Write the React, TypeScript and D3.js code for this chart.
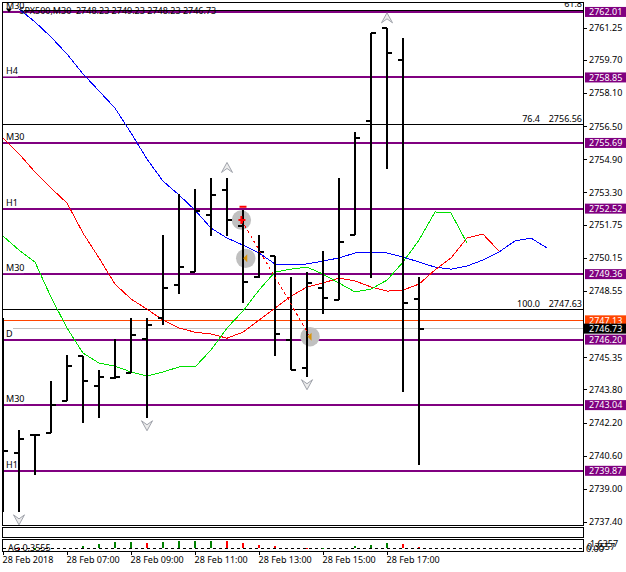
import { useEffect, useRef } from 'react';
import * as d3 from 'd3';

// 30 minute bars, 05:00 to 18:00
const barOpen = [2746.66, 2740.74, 2741.61, 2741.70, 2743.25, 2745.42, 2743.98, 2744.36, 2744.60, 2746.23, 2747.26, 2748.84, 2749.46, 2752.21, 2753.42, 2751.70, 2749.24, 2750.24, 2746.18, 2744.84, 2748.71, 2748.11, 2751.25, 2756.77, 2761.22, 2759.69, 2748.17];
const barHigh = [2747.24, 2741.84, 2741.64, 2744.20, 2745.46, 2745.42, 2744.73, 2746.23, 2747.24, 2747.24, 2751.25, 2753.23, 2753.47, 2754.00, 2754.00, 2752.46, 2751.25, 2750.24, 2749.22, 2749.46, 2750.48, 2754.00, 2756.22, 2760.98, 2761.22, 2760.74, 2749.22];
const barLow = [2737.89, 2737.89, 2739.66, 2741.70, 2743.25, 2742.19, 2742.43, 2744.30, 2744.57, 2742.43, 2746.91, 2748.42, 2749.46, 2751.22, 2751.22, 2747.97, 2749.19, 2745.42, 2744.73, 2744.41, 2747.44, 2748.11, 2751.25, 2749.19, 2754.43, 2743.69, 2740.15];
const barClose = [2740.82, 2741.40, 2741.61, 2743.06, 2744.94, 2744.20, 2744.41, 2744.41, 2746.42, 2746.91, 2748.71, 2749.70, 2752.41, 2753.18, 2751.97, 2749.00, 2750.44, 2746.47, 2744.73, 2748.95, 2748.22, 2750.93, 2755.94, 2760.98, 2760.03, 2747.98, 2746.73];

// moving averages (blue starts on bar 1, the others on bar 0)
const blueMa = [2762.15, 2761.53, 2760.80, 2759.98, 2759.02, 2758.20, 2757.37, 2756.17, 2754.91, 2753.85, 2753.18, 2752.45, 2751.58, 2751.10, 2750.76, 2750.38, 2749.85, 2749.80, 2749.85, 2749.99, 2750.14, 2750.38, 2750.38, 2750.38, 2750.19, 2749.94, 2749.70, 2749.60, 2749.75, 2750.04, 2750.43, 2750.96, 2751.10, 2750.62];
const redMa = [2755.93, 2755.16, 2754.29, 2753.51, 2752.79, 2751.34, 2750.14, 2748.88, 2748.16, 2747.67, 2747.14, 2746.76, 2746.56, 2746.47, 2746.27, 2746.56, 2747.14, 2747.72, 2748.30, 2748.74, 2748.93, 2749.17, 2749.03, 2748.74, 2748.54, 2748.59, 2748.88, 2749.56, 2750.14, 2751.10, 2751.29, 2750.47];
const greenMa = [2751.20, 2750.52, 2749.94, 2748.25, 2746.76, 2745.55, 2745.07, 2744.92, 2744.64, 2744.44, 2744.64, 2744.88, 2744.88, 2745.70, 2746.76, 2747.58, 2748.59, 2749.46, 2749.60, 2749.70, 2749.36, 2748.93, 2748.50, 2748.64, 2749.07, 2749.94, 2751.00, 2752.36, 2752.31, 2750.86];

// purple levels and the timeframe written on each
const levelPrices = [2762.01, 2758.85, 2755.69, 2752.52, 2749.36, 2746.20, 2743.04, 2739.87];
const levelNames = ['M30', 'H4', 'M30', 'H1', 'M30', 'D', 'M30', 'H1'];

const fibPrices = [2762.09, 2756.56, 2747.63];
const fibNames = ['61.8', '76.4', '100.0'];

const priceTicks = [2761.25, 2759.7, 2758.1, 2756.5, 2754.9, 2753.3, 2751.75, 2750.15, 2748.55, 2746.95, 2745.35, 2743.8, 2742.2, 2740.6, 2739.0, 2737.4];
const timeTickBars = [0, 4, 8, 12, 16, 20, 24];
const timeLabels = ['28 Feb 2018', '28 Feb 07:00', '28 Feb 09:00', '28 Feb 11:00', '28 Feb 13:00', '28 Feb 15:00', '28 Feb 17:00'];

const fractalUpBars = [14, 24];
const fractalDownBars = [1, 9, 19];

// trade marks: fractional bar position and price
const tradeBars = [14.9, 15.17, 19.19];
const tradePrices = [2751.97, 2750.12, 2746.34];
const stopBar = 15;
const stopPrice = 2752.61;

// AG histogram, one value per bar
const histValues = [0, -0.3, -0.3, 0, 0, 0.52, 0.9, 1.26, 1.36, 1.05, 1.26, 1.47, 1.53, 1.53, 1.53, 1.05, 0.63, 0.42, 0.1, -0.2, -0.2, 0.1, 0.42, 0.7, 1.05, 0.84, 0.21];
const histRed = [0, 1, 0, 0, 0, 0, 0, 0, 0, 1, 0, 0, 0, 0, 1, 1, 1, 1, 1, 1, 0, 0, 0, 0, 0, 1, 1];

const PURPLE = '#800080';
const ORANGE = '#ff4500';
const FONT = '"Noto Sans", sans-serif';

export default function App() {
  const svgRef = useRef<SVGSVGElement>(null);

  useEffect(() => {
    if (!svgRef.current) return;
    d3.select(svgRef.current).selectAll('*').remove();

    const svg = d3.select(svgRef.current);
    svg.style('font-family', FONT).style('font-size', '9px');

    const left = 2.5;
    const right = 583.5;
    const top = 2.5;
    const bottom = 525.5;

    const x = d3.scaleLinear().domain([0, 26]).range([3, 419]);
    const y = d3.scaleLinear().domain([2761.25, 2737.4]).range([27.7, 522]);
    const h = d3.scaleLinear().domain([0, 1.6357]).range([548.3, 540.5]);

    svg.append('rect').attr('width', 626).attr('height', 572).attr('fill', '#fff');

    svg
      .append('defs')
      .append('clipPath')
      .attr('id', 'main-clip')
      .append('rect')
      .attr('x', left)
      .attr('y', top)
      .attr('width', right - left)
      .attr('height', bottom - top);

    const g = svg.append('g').attr('clip-path', 'url(#main-clip)');

    // Horizontal lines
    g.selectAll('.fib')
      .data(fibPrices)
      .enter()
      .append('line')
      .attr('x1', left)
      .attr('x2', right)
      .attr('y1', (d) => y(d))
      .attr('y2', (d) => y(d))
      .attr('stroke', '#000')
      .attr('shape-rendering', 'crispEdges');

    g.append('line')
      .attr('x1', 13)
      .attr('x2', right)
      .attr('y1', y(2746.73))
      .attr('y2', y(2746.73))
      .attr('stroke', '#c0c0c0')
      .attr('shape-rendering', 'crispEdges');

    g.append('line')
      .attr('x1', 4)
      .attr('x2', right)
      .attr('y1', y(2747.13))
      .attr('y2', y(2747.13))
      .attr('stroke', ORANGE)
      .attr('shape-rendering', 'crispEdges');

    g.selectAll('.level')
      .data(levelPrices)
      .enter()
      .append('line')
      .attr('x1', left)
      .attr('x2', right)
      .attr('y1', (d) => y(d))
      .attr('y2', (d) => y(d))
      .attr('stroke', PURPLE)
      .attr('stroke-width', 2)
      .attr('shape-rendering', 'crispEdges');

    // Level names sit on a white box that eats the top of the line
    const labelWidth = (name: string) => (name === 'M30' ? 21 : name === 'D' ? 10 : 15);
    g.selectAll('.level-bg')
      .data(levelPrices)
      .enter()
      .append('rect')
      .attr('x', 3)
      .attr('y', (d) => y(d) - 11)
      .attr('width', (_d, i) => labelWidth(levelNames[i]))
      .attr('height', 10)
      .attr('fill', '#fff');

    g.selectAll('.level-name')
      .data(levelPrices)
      .enter()
      .append('text')
      .attr('x', 6)
      .attr('y', (d) => y(d) - 3)
      .attr('fill', '#000')
      .text((_d, i) => levelNames[i]);

    // Moving averages, aliased like the terminal draws them
    const maLine = (offset: number) =>
      d3
        .line<number>()
        .x((_d, i) => x(i + offset))
        .y((d) => y(d));

    g.append('path')
      .attr('d', maLine(1)(blueMa))
      .attr('fill', 'none')
      .attr('stroke', '#0000ff')
      .attr('shape-rendering', 'crispEdges');
    g.append('path')
      .attr('d', maLine(0)(redMa))
      .attr('fill', 'none')
      .attr('stroke', '#ff0000')
      .attr('shape-rendering', 'crispEdges');
    g.append('path')
      .attr('d', maLine(0)(greenMa))
      .attr('fill', 'none')
      .attr('stroke', '#00e000')
      .attr('shape-rendering', 'crispEdges');

    // Trade circles go under the bars
    g.selectAll('.trade')
      .data(tradePrices)
      .enter()
      .append('circle')
      .attr('cx', (_d, i) => x(tradeBars[i]))
      .attr('cy', (d) => y(d))
      .attr('r', 9.7)
      .attr('fill', '#c0c0c0');

    // OHLC bars
    const bars = g
      .selectAll('.bar')
      .data(barHigh)
      .enter()
      .append('g')
      .attr('shape-rendering', 'crispEdges');

    bars
      .append('rect')
      .attr('x', (_d, i) => x(i) - 1)
      .attr('y', (d) => y(d))
      .attr('width', 2)
      .attr('height', (d, i) => y(barLow[i]) - y(d));
    bars
      .append('rect')
      .attr('x', (_d, i) => x(i) - 5)
      .attr('y', (_d, i) => y(barOpen[i]) - 1)
      .attr('width', 5)
      .attr('height', 2);
    bars
      .append('rect')
      .attr('x', (_d, i) => x(i))
      .attr('y', (_d, i) => y(barClose[i]) - 1)
      .attr('width', 5)
      .attr('height', 2);

    // Dotted line between the trade marks
    g.append('line')
      .attr('x1', x(tradeBars[0]))
      .attr('y1', y(tradePrices[0]))
      .attr('x2', x(tradeBars[2]))
      .attr('y2', y(tradePrices[2]))
      .attr('stroke', '#ff0000')
      .attr('stroke-dasharray', '3,3')
      .attr('shape-rendering', 'crispEdges');

    g.append('rect')
      .attr('x', x(stopBar) - 3.5)
      .attr('y', y(stopPrice) - 1)
      .attr('width', 7)
      .attr('height', 2)
      .attr('fill', '#ff0000');

    // Trade glyphs
    g.append('path')
      .attr('transform', `translate(${x(tradeBars[0])},${y(tradePrices[0])})`)
      .attr('d', 'M-3,-1H-1V-4H1V-1H4V1H1V4H-1V1H-3Z')
      .attr('fill', '#ff0000');
    tradePrices.slice(1).forEach((price, i) => {
      g.append('path')
        .attr('transform', `translate(${x(tradeBars[i + 1]) + 0.5},${y(price)})`)
        .attr('d', 'M-3,0L1,-4V4Z')
        .attr('fill', '#d8940c');
    });

    // Fractal arrows
    const arrow = 'M0,-5.5L5.5,4.5L0,0.5L-5.5,4.5Z';
    g.selectAll('.fractal-up')
      .data(fractalUpBars)
      .enter()
      .append('path')
      .attr('transform', (d) => `translate(${x(d)},${y(barHigh[d]) - 10})`)
      .attr('d', arrow)
      .attr('fill', '#ececec')
      .attr('stroke', '#a0a3ab')
      .attr('stroke-width', 1);
    g.selectAll('.fractal-down')
      .data(fractalDownBars)
      .enter()
      .append('path')
      .attr('transform', (d) => `translate(${x(d)},${y(barLow[d]) + 7.5}) rotate(180)`)
      .attr('d', arrow)
      .attr('fill', '#ececec')
      .attr('stroke', '#a0a3ab')
      .attr('stroke-width', 1);

    // Fib captions
    g.selectAll('.fib-name')
      .data(fibPrices)
      .enter()
      .append('text')
      .attr('x', (_d, i) => (i === 0 ? 582 : 540))
      .attr('y', (d) => y(d) - 3)
      .attr('text-anchor', 'end')
      .text((_d, i) => fibNames[i]);
    g.selectAll('.fib-value')
      .data(fibPrices.slice(1))
      .enter()
      .append('text')
      .attr('x', 582)
      .attr('y', (d) => y(d) - 3)
      .attr('text-anchor', 'end')
      .text((d) => d.toFixed(2));

    // Chart caption
    g.append('path').attr('d', 'M6,8.5H12L9,12.5Z').attr('fill', '#000');
    g.append('text')
      .attr('x', 19.5)
      .attr('y', 14)
      .attr('xml:space', 'preserve')
      .text('SPX500,M30  2748.23 2749.23 2748.23 2746.73');

    // Frames
    const frames = [
      [top, bottom],
      [527.5, 537.5],
      [539.5, 551.5],
    ];
    svg
      .selectAll('.frame')
      .data(frames)
      .enter()
      .append('rect')
      .attr('x', left)
      .attr('y', (d) => d[0])
      .attr('width', right - left)
      .attr('height', (d) => d[1] - d[0])
      .attr('fill', 'none')
      .attr('stroke', '#000')
      .attr('shape-rendering', 'crispEdges');

    // Price axis
    const priceAxis = d3
      .axisRight(y)
      .tickValues(priceTicks)
      .tickSize(3)
      .tickFormat((d) => (d as number).toFixed(2));
    const priceG = svg
      .append('g')
      .attr('transform', `translate(${right},0)`)
      .call(priceAxis);
    priceG.select('.domain').remove();
    priceG.selectAll('text').attr('x', 5.5).style('font-family', FONT).style('font-size', '9px');
    priceG.selectAll('line').attr('shape-rendering', 'crispEdges');

    // Price tags on the right
    const tags = [
      ...levelPrices.map((d) => ({ price: d, fill: PURPLE, x: 585 })),
      { price: 2747.13, fill: ORANGE, x: 585 },
      { price: 2746.73, fill: '#000', x: 583 },
    ];
    const tag = svg.selectAll('.tag').data(tags).enter().append('g');
    tag
      .append('rect')
      .attr('x', (d) => d.x)
      .attr('y', (d) => y(d.price) - 5)
      .attr('width', (d) => 626 - d.x)
      .attr('height', 10)
      .attr('fill', (d) => d.fill);
    tag
      .append('text')
      .attr('x', 589)
      .attr('y', (d) => y(d.price) + 3.3)
      .attr('fill', '#fff')
      .text((d) => d.price.toFixed(2));

    // AG histogram
    svg
      .append('line')
      .attr('x1', left)
      .attr('x2', right)
      .attr('y1', h(0))
      .attr('y2', h(0))
      .attr('stroke', '#000')
      .attr('stroke-dasharray', '3,3')
      .attr('shape-rendering', 'crispEdges');

    svg
      .selectAll('.hist')
      .data(histValues)
      .enter()
      .append('rect')
      .attr('x', (_d, i) => x(i) - 1)
      .attr('y', (d) => Math.min(h(d), h(0)))
      .attr('width', 2)
      .attr('height', (d) => Math.abs(h(d) - h(0)))
      .attr('fill', (_d, i) => (histRed[i] ? '#ff0000' : '#008000'))
      .attr('shape-rendering', 'crispEdges');

    svg.append('text').attr('x', 8).attr('y', 551).text('AG 0.3555');
    svg.append('text').attr('x', 590).attr('y', 547).text('1.6357');
    svg.append('text').attr('x', 587).attr('y', 550).text('0.3557');
    svg.append('text').attr('x', 586).attr('y', 552).text('0.00');

    // Time axis
    const timeAxis = d3
      .axisBottom(x)
      .tickValues(timeTickBars)
      .tickSize(3)
      .tickFormat((_d, i) => timeLabels[i]);
    const timeG = svg
      .append('g')
      .attr('transform', 'translate(0,551.5)')
      .call(timeAxis);
    timeG.select('.domain').remove();
    timeG
      .selectAll('text')
      .attr('text-anchor', 'start')
      .attr('dx', -1)
      .attr('y', 5)
      .style('font-family', FONT)
      .style('font-size', '9px');
    timeG.selectAll('line').attr('shape-rendering', 'crispEdges');
  }, []);

  return (
    <svg
      ref={svgRef}
      width={626}
      height={572}
      style={{ position: 'absolute', left: 0, top: 0, display: 'block' }}
    />
  );
}
